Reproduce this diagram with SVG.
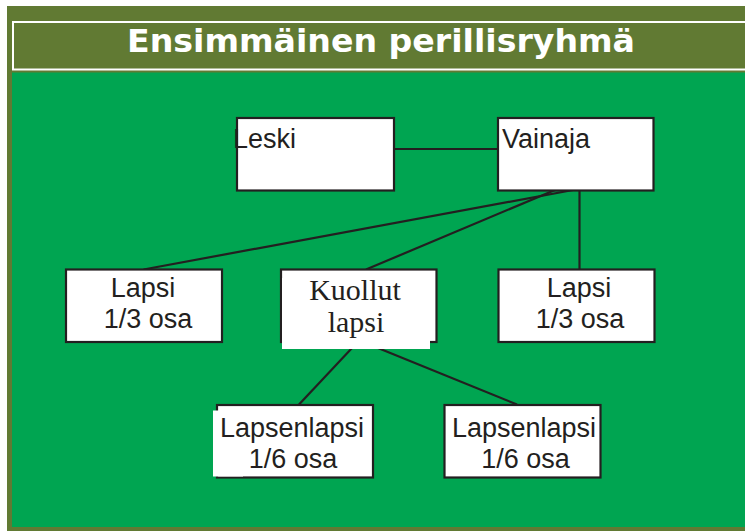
<svg xmlns="http://www.w3.org/2000/svg" width="745" height="531" viewBox="0 0 745 531">
<style>
.box{fill:#ffffff;stroke:#231f20;stroke-width:2.2}
.patch{fill:#ffffff;stroke:none}
.t{font-family:"Liberation Sans","DejaVu Sans",Arial,sans-serif;font-size:27px;fill:#231f20}
.ts{font-family:"Liberation Serif","Times New Roman",serif;font-size:30px;fill:#231f20}
.c{text-anchor:middle}
.con line{stroke:#231f20;stroke-width:2.2;fill:none}
</style>
<rect x="0" y="0" width="745" height="531" fill="#ffffff"/>
<rect x="7" y="6" width="738" height="525" fill="#617a33"/>
<rect x="13" y="22" width="740" height="47.5" fill="none" stroke="#ffffff" stroke-width="2"/>
<rect x="12" y="72.5" width="733" height="454.5" fill="#00a551"/>
<text x="381" y="51.7" text-anchor="middle" textLength="508" lengthAdjust="spacingAndGlyphs" font-family="'DejaVu Sans','Liberation Sans',sans-serif" font-weight="bold" font-size="32" fill="#ffffff">Ensimmäinen perillisryhmä</text>
<g id="connectors" class="con">
<line x1="394" y1="149" x2="497.5" y2="149"/>
<line x1="573" y1="190" x2="143.5" y2="269.5"/>
<line x1="555" y1="190" x2="366" y2="269.5"/>
<line x1="579.5" y1="190" x2="579.5" y2="269.5"/>
<line x1="352" y1="348" x2="299" y2="404.5"/>
<line x1="378" y1="348" x2="517" y2="404.5"/>
</g>
<g id="leski">
<rect class="box" x="237" y="118" width="157" height="72.5"/>
<text class="t" x="233" y="148">Leski</text>
</g>
<g id="vainaja">
<rect class="box" x="498" y="118" width="155.5" height="72.5"/>
<text class="t" x="502" y="148">Vainaja</text>
</g>
<g id="lapsi1">
<rect class="box" x="66" y="269.5" width="156" height="72.5"/>
<text class="t c" x="143" y="296.7">Lapsi</text>
<text class="t c" x="148" y="328.3">1/3 osa</text>
</g>
<g id="kuollut">
<rect class="box" x="281" y="269.5" width="155.5" height="72.5"/>
<rect class="patch" x="282" y="278" width="148" height="71"/>
<text class="ts c" x="355" y="300">Kuollut</text>
<text class="ts c" x="356" y="331.7">lapsi</text>
</g>
<g id="lapsi2">
<rect class="box" x="498.5" y="269.5" width="156" height="72.5"/>
<text class="t c" x="579" y="296.7">Lapsi</text>
<text class="t c" x="580" y="328.3">1/3 osa</text>
</g>
<g id="lapsenlapsi1">
<rect class="box" x="217" y="405" width="156" height="72.5"/>
<rect class="patch" x="213" y="410.5" width="30" height="66"/>
<text class="t c" x="292" y="436.7">Lapsenlapsi</text>
<text class="t c" x="293" y="468.3">1/6 osa</text>
</g>
<g id="lapsenlapsi2">
<rect class="box" x="444.5" y="405" width="156" height="72.5"/>
<text class="t c" x="524" y="436.7">Lapsenlapsi</text>
<text class="t c" x="525.5" y="468.3">1/6 osa</text>
</g>
</svg>
